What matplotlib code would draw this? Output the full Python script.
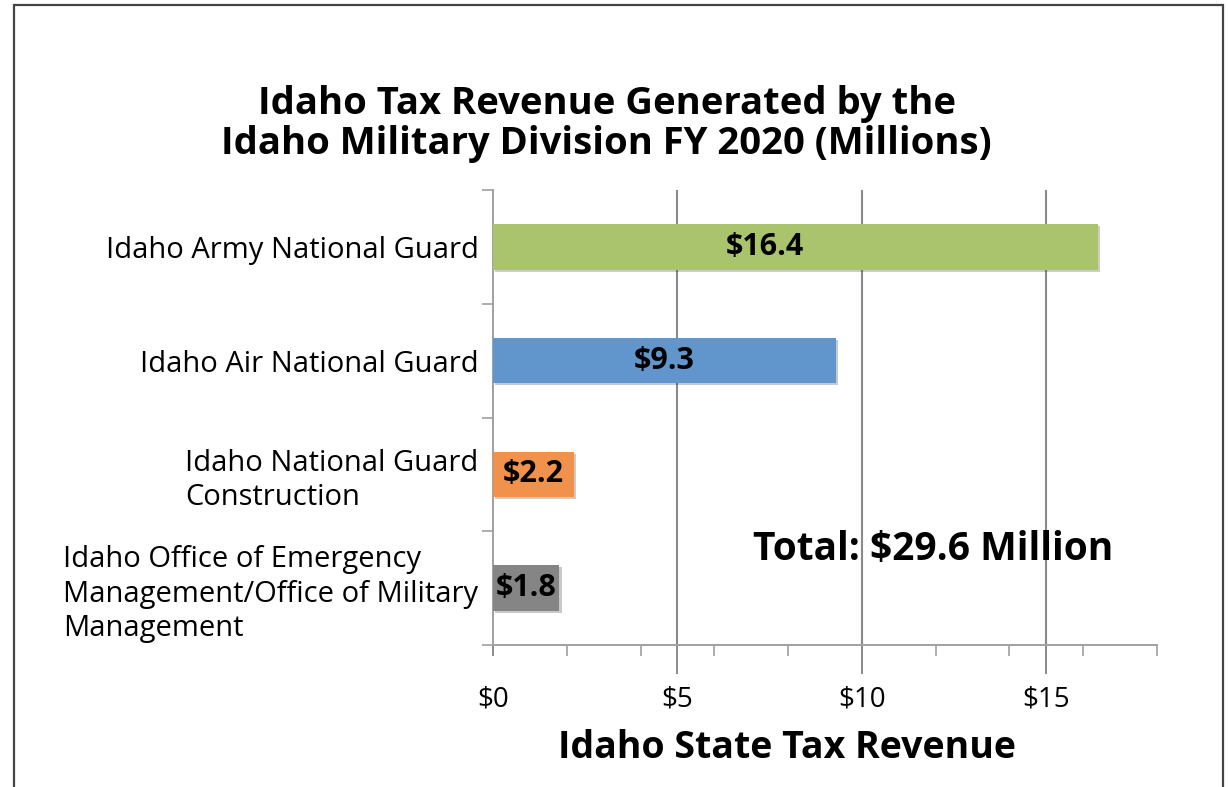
import matplotlib
matplotlib.use("Agg")
from matplotlib import pyplot as plt
from matplotlib import patheffects as pe
from matplotlib.patches import Rectangle
import numpy as np

# data
categories = [
    "Idaho Army National Guard",
    "Idaho Air National Guard",
    "Idaho National Guard\nConstruction",
    "Idaho Office of Emergency\nManagement/Office of Military\nManagement",
]
revenue = [16.4, 9.3, 2.2, 1.8]
bar_colors = ["#a9c46c", "#6196cc", "#f0924c", "#858585"]
major_ticks = [0, 5, 10, 15]
minor_ticks = [2, 4, 6, 8, 12, 14, 16, 18]
total = 29.6

plt.rcParams["font.family"] = ["Open Sans", "DejaVu Sans"]

fig = plt.figure(figsize=(12.28, 7.87), dpi=100)
ax = fig.add_axes([0.4015, 0.1804, 0.5407, 0.5782])

# outer frame around the whole chart
fig.patches.append(Rectangle((0.011, -0.05), 0.985, 1.044, transform=fig.transFigure,
                             fill=False, edgecolor="#444444", linewidth=1.6))

y = np.arange(len(categories))
bars = ax.barh(y, revenue, height=0.4, color=bar_colors, zorder=3)
for b in bars:
    b.set_path_effects([pe.SimplePatchShadow(offset=(1.5, -1.5), alpha=0.25), pe.Normal()])

# value labels inside the bars
for yi, v in zip(y, revenue):
    ax.text(min(v / 2, 7.37), yi, "$%.1f" % v, ha="center", va="center",
            fontsize=22, fontweight="bold", color="black", zorder=4)

ax.set_xlim(0, 18)
ax.set_ylim(len(categories) - 0.5, -0.5)

# x axis: gridlines every 5, short ticks every 2
ax.set_xticks(major_ticks)
ax.set_xticklabels(["$%d" % t for t in major_ticks])
ax.set_xticks(minor_ticks, minor=True)
for t in major_ticks[1:]:
    ax.axvline(t, color="#8a8a8a", linewidth=1.5, zorder=1)
ax.tick_params(axis="x", which="major", length=21, width=1.4, color="#8a8a8a",
               labelsize=20, pad=8)
ax.tick_params(axis="x", which="minor", length=8, width=1.2, color="#a0a0a0")
ax.xaxis.get_major_ticks()[0].tick1line.set_markersize(8)

# y axis: category labels, separator ticks between categories
ax.set_yticks(y)
ax.set_yticklabels(categories, ha="right", multialignment="left")
ax.set_yticks(np.arange(-0.5, len(categories), 1.0), minor=True)
ax.tick_params(axis="y", which="major", length=0, labelsize=21, pad=10.5)
ax.tick_params(axis="y", which="minor", length=8, width=1.2, color="#a0a0a0")
for lbl in ax.get_yticklabels():
    lbl.set_linespacing(1.25)

for s in ["top", "right"]:
    ax.spines[s].set_visible(False)
for s in ["left", "bottom"]:
    ax.spines[s].set_color("#a0a0a0")
    ax.spines[s].set_linewidth(1.4)

ax.set_xlabel("Idaho State Tax Revenue", fontsize=27, fontweight="bold")
ax.xaxis.set_label_coords(0.443, -0.226)
ax.xaxis.label.set_va("center")

fig.text(0.494, 0.842, "Idaho Tax Revenue Generated by the\nIdaho Military Division FY 2020 (Millions)",
         ha="center", va="center", fontsize=27.5, fontweight="bold", linespacing=1.07)

ax.text(7.05, 2.66, "Total: $%.1f Million" % total, ha="left", va="center",
        fontsize=28, fontweight="bold")

fig.savefig("out.png", dpi=100)
